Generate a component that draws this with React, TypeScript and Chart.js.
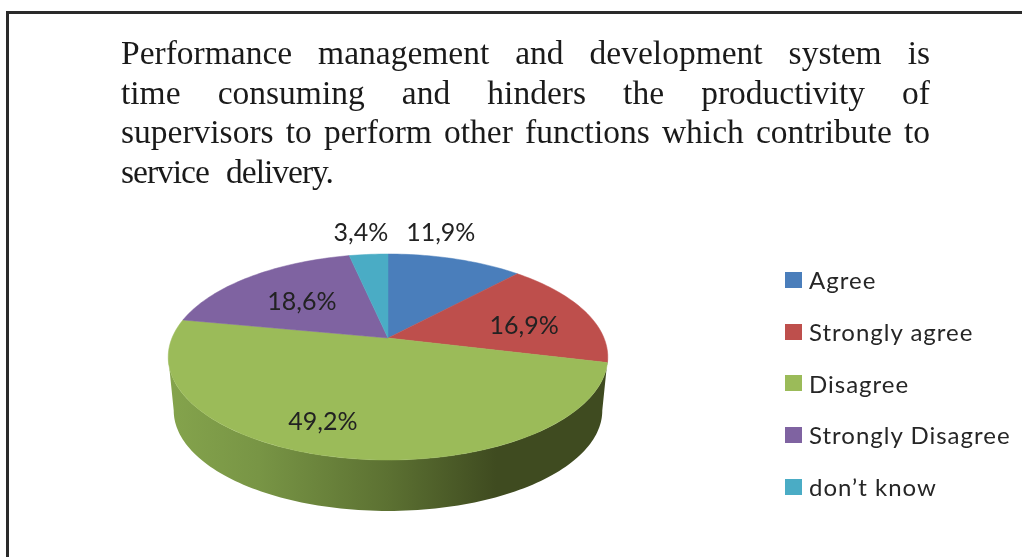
import React, { useEffect, useRef } from "react";
import { Chart, registerables } from "chart.js";

Chart.register(...registerables);

const titleLines = [
  "Performance management and development system is",
  "time consuming and hinders the productivity of",
  "supervisors to perform other functions which contribute to",
  "service delivery.",
];
const categories = ["Agree", "Strongly agree", "Disagree", "Strongly Disagree", "don\u2019t know"];
const values = [11.9, 16.9, 49.2, 18.6, 3.4];
const valueLabels = ["11,9%", "16,9%", "49,2%", "18,6%", "3,4%"];
const colors = ["#4A7EBB", "#BE4F4C", "#9BBB59", "#7F63A1", "#4AACC5"];
const labelRadius = [1.36, 0.66, 0.77, 0.585, 1.336];
const labelTurnDeg = [-8.5, 5, 7.6, -1.3, -0.6];

const TILT = 0.4606;
const PERSPECTIVE = -0.1845;
const DEPTH = 54;
const FONT = "Lato, 'Noto Sans', sans-serif";

function project(el: any, angle: number, r = 1, dy = 0, scale = 1) {
  const x = r * Math.cos(angle);
  const y = r * Math.sin(angle);
  const d = 1 + PERSPECTIVE * y;
  const R = el.outerRadius * scale;
  return { x: el.x + (R * x) / d, y: el.y + dy + (R * TILT * y) / d };
}

const pie3d = {
  id: "pie3d",
  beforeDatasetDraw(chart: any) {
    const { ctx } = chart;
    const arcs = chart.getDatasetMeta(0).data;
    const first = arcs[0];
    const a0 = Math.asin(-PERSPECTIVE);
    const a1 = Math.PI - a0;
    const N = 120;
    const g = ctx.createLinearGradient(first.x - first.outerRadius, 0, first.x + first.outerRadius, 0);
    g.addColorStop(0, "#84A34C");
    g.addColorStop(0.2, "#789545");
    g.addColorStop(0.5, "#5C7132");
    g.addColorStop(0.75, "#3F4B20");
    g.addColorStop(1, "#3F4B20");
    ctx.save();
    ctx.beginPath();
    for (let i = 0; i <= N; i++) {
      const p = project(first, a0 + ((a1 - a0) * i) / N);
      if (i === 0) ctx.moveTo(p.x, p.y);
      else ctx.lineTo(p.x, p.y);
    }
    for (let i = N; i >= 0; i--) {
      const p = project(first, a0 + ((a1 - a0) * i) / N, 1, DEPTH, 0.975);
      ctx.lineTo(p.x, p.y);
    }
    ctx.closePath();
    ctx.fillStyle = g;
    ctx.fill();
    arcs.forEach((el: any) => {
      const steps = Math.max(8, Math.ceil((el.endAngle - el.startAngle) * 40));
      ctx.beginPath();
      ctx.moveTo(el.x, el.y);
      for (let i = 0; i <= steps; i++) {
        const p = project(el, el.startAngle + ((el.endAngle - el.startAngle) * i) / steps);
        ctx.lineTo(p.x, p.y);
      }
      ctx.closePath();
      ctx.fillStyle = el.options.backgroundColor;
      ctx.strokeStyle = el.options.backgroundColor;
      ctx.lineWidth = 0.5;
      ctx.fill();
      ctx.stroke();
    });
    ctx.restore();
    return false;
  },
  afterDatasetsDraw(chart: any) {
    const { ctx } = chart;
    ctx.save();
    ctx.font = `25px ${FONT}`;
    ctx.fillStyle = "#222222";
    ctx.textAlign = "center";
    ctx.textBaseline = "middle";
    chart.getDatasetMeta(0).data.forEach((el: any, i: number) => {
      const mid = (el.startAngle + el.endAngle) / 2 + (labelTurnDeg[i] * Math.PI) / 180;
      const p = project(el, mid, labelRadius[i]);
      ctx.fillText(valueLabels[i], p.x, p.y + 1);
    });
    ctx.restore();
  },
};

export default function App() {
  const ref = useRef<HTMLCanvasElement>(null);
  useEffect(() => {
    const chart = new Chart(ref.current!, {
      type: "pie",
      data: {
        labels: categories,
        datasets: [{ data: values, backgroundColor: colors, borderWidth: 0 }],
      },
      options: {
        animation: false,
        responsive: false,
        layout: { padding: { left: 172, right: 418, top: 122, bottom: 3 } },
        plugins: { legend: { display: false }, tooltip: { enabled: false }, title: { display: false } },
      },
      plugins: [pie3d],
    } as any);
    return () => chart.destroy();
  }, []);

  return (
    <div style={{ position: "absolute", left: 0, top: 0, width: 1022, height: 557, overflow: "hidden", background: "#fff", filter: "blur(0.6px)" }}>
      <div style={{ position: "absolute", left: 6, top: 11, width: 1100, height: 700, borderLeft: "3px solid #2a2a2a", borderTop: "3px solid #2a2a2a" }} />
      <canvas ref={ref} width={1022} height={557} style={{ position: "absolute", left: 0, top: 0 }} />
      <div style={{ position: "absolute", left: 121, top: 33, width: 809, fontFamily: "'Liberation Serif', serif", fontSize: 33.5, lineHeight: "39.5px", color: "#1a1a1a" }}>
        {titleLines.map((t, i) => (
          <div key={t} style={{ textAlign: "justify", textAlignLast: "justify", width: i === 3 ? 212 : 809, letterSpacing: i === 3 ? -1 : 0 }}>{t}</div>
        ))}
      </div>
      <div style={{ position: "absolute", left: 785, top: 254 }}>
        {categories.map((c, i) => (
          <div key={c} style={{ height: 51.7, display: "flex", alignItems: "center", fontFamily: FONT, fontSize: 24, letterSpacing: 1, color: "#262626", whiteSpace: "nowrap" }}>
            <span style={{ display: "inline-block", width: 17, height: 16, background: colors[i], marginRight: 7 }} />
            {c}
          </div>
        ))}
      </div>
    </div>
  );
}
